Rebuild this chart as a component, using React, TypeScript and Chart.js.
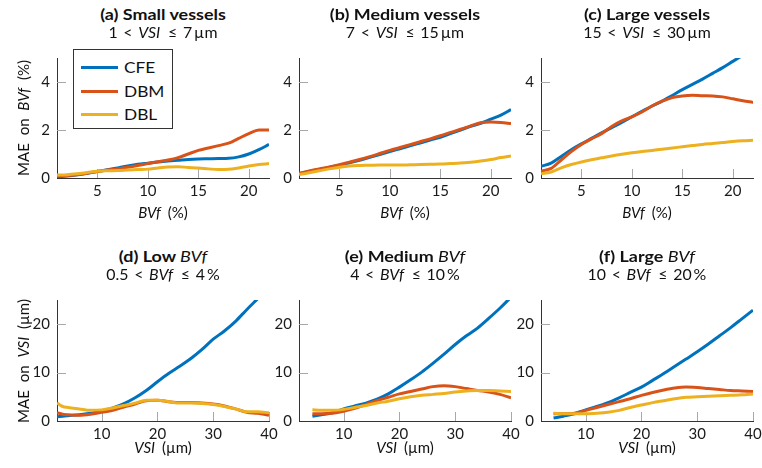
import React, { useEffect, useRef } from 'react';
import { Chart, registerables } from 'chart.js';
Chart.register(...registerables);

// ---------- data ----------
const BVF_X = [1, 2, 3, 4, 5, 6, 7, 8, 9, 10, 11, 12, 13, 14, 15, 16, 17, 18, 19, 20, 21, 22];
const BVF_TICKS = [5, 10, 15, 20];
const MAE_BVF_TICKS = [0, 2, 4];

const A_CFE = [0.05, 0.08, 0.13, 0.2, 0.27, 0.34, 0.42, 0.5, 0.57, 0.62, 0.67, 0.71, 0.74, 0.77, 0.79, 0.8, 0.81, 0.82, 0.88, 1.0, 1.18, 1.4];
const A_DBM = [0.08, 0.1, 0.14, 0.2, 0.27, 0.33, 0.38, 0.45, 0.52, 0.6, 0.68, 0.75, 0.85, 1.0, 1.15, 1.25, 1.35, 1.45, 1.65, 1.85, 2.0, 2.0];
const A_DBL = [0.12, 0.14, 0.18, 0.23, 0.28, 0.3, 0.31, 0.33, 0.35, 0.37, 0.42, 0.46, 0.47, 0.44, 0.42, 0.38, 0.35, 0.36, 0.42, 0.5, 0.56, 0.6];

const B_CFE = [0.18, 0.27, 0.36, 0.44, 0.53, 0.63, 0.74, 0.86, 0.98, 1.1, 1.22, 1.34, 1.46, 1.58, 1.7, 1.85, 2.0, 2.15, 2.28, 2.45, 2.62, 2.85];
const B_DBM = [0.2, 0.29, 0.38, 0.46, 0.55, 0.66, 0.77, 0.89, 1.02, 1.15, 1.27, 1.39, 1.51, 1.63, 1.76, 1.9, 2.03, 2.17, 2.3, 2.33, 2.31, 2.27];
const B_DBL = [0.14, 0.22, 0.3, 0.38, 0.45, 0.5, 0.52, 0.53, 0.54, 0.54, 0.54, 0.55, 0.56, 0.57, 0.58, 0.6, 0.62, 0.66, 0.71, 0.77, 0.85, 0.92];

const C_CFE = [0.49, 0.62, 0.9, 1.18, 1.42, 1.65, 1.88, 2.1, 2.32, 2.55, 2.78, 3.0, 3.2, 3.44, 3.68, 3.9, 4.12, 4.36, 4.6, 4.86, 5.12, 5.38];
const C_DBM = [0.28, 0.4, 0.75, 1.1, 1.4, 1.63, 1.85, 2.15, 2.38, 2.55, 2.75, 3.0, 3.2, 3.35, 3.42, 3.45, 3.43, 3.42, 3.38, 3.3, 3.22, 3.15];
const C_DBL = [0.18, 0.25, 0.42, 0.56, 0.67, 0.76, 0.84, 0.92, 0.99, 1.05, 1.1, 1.15, 1.2, 1.25, 1.3, 1.35, 1.4, 1.44, 1.48, 1.52, 1.55, 1.57];

const VSI_TICKS = [10, 20, 30, 40];
const MAE_VSI_TICKS = [0, 10, 20];

const D_X = [2, 3, 4, 6, 8, 10, 12, 14, 16, 18, 20, 22, 24, 26, 28, 30, 32, 34, 36, 38, 40];
const D_CFE = [0.9, 1.0, 1.1, 1.3, 1.6, 2.0, 2.7, 3.6, 4.8, 6.3, 8.1, 9.8, 11.3, 12.9, 14.8, 16.9, 18.6, 20.6, 23.0, 25.3, 27.6];
const D_DBM = [1.7, 1.4, 1.3, 1.2, 1.4, 1.8, 2.2, 2.9, 3.5, 4.2, 4.3, 4.0, 3.8, 3.8, 3.7, 3.5, 3.1, 2.5, 1.8, 1.6, 1.2];
const D_DBL = [3.7, 3.0, 2.8, 2.5, 2.2, 2.3, 2.7, 3.2, 3.7, 4.3, 4.3, 4.0, 3.7, 3.7, 3.6, 3.4, 3.0, 2.5, 1.9, 1.9, 1.7];

const E_X = [4.4, 6, 8, 10, 12, 14, 16, 18, 20, 22, 24, 26, 28, 30, 32, 34, 36, 38, 40];
const E_CFE = [1.0, 1.3, 1.7, 2.5, 3.1, 3.7, 4.5, 5.6, 7.0, 8.5, 10.1, 11.9, 13.8, 15.8, 17.6, 19.2, 21.2, 23.3, 25.6];
const E_DBM = [1.5, 1.5, 1.6, 2.0, 2.6, 3.4, 4.2, 4.9, 5.6, 6.1, 6.6, 7.1, 7.3, 7.1, 6.7, 6.3, 6.0, 5.5, 4.8];
const E_DBL = [2.3, 2.2, 2.2, 2.4, 2.8, 3.2, 3.7, 4.1, 4.6, 5.0, 5.3, 5.5, 5.7, 6.0, 6.2, 6.3, 6.3, 6.2, 6.1];

const F_X = [4.25, 6, 8, 10, 12, 14, 16, 18, 20, 22, 24, 26, 28, 30, 32, 34, 36, 38, 40];
const F_CFE = [0.6, 1.0, 1.5, 2.3, 3.0, 3.8, 4.8, 5.9, 7.0, 8.4, 9.8, 11.3, 12.8, 14.3, 15.9, 17.6, 19.3, 21.1, 22.9];
const F_DBM = [1.5, 1.5, 1.6, 2.2, 2.8, 3.4, 4.0, 4.6, 5.3, 5.9, 6.4, 6.8, 7.0, 6.9, 6.7, 6.5, 6.3, 6.2, 6.1];
const F_DBL = [1.6, 1.5, 1.5, 1.5, 1.6, 1.8, 2.2, 2.8, 3.3, 3.8, 4.2, 4.6, 4.9, 5.0, 5.1, 5.2, 5.3, 5.4, 5.6];

const SERIES = ['CFE', 'DBM', 'DBL'];

// ---------- styles ----------
const COLORS = ['#0072BD', '#D95319', '#EDB120'];
const FONT = 'Lato, "Open Sans", sans-serif';
const COL_LEFT = [57, 299, 541];
const PLOT_W = 212;
const ROW_TOP = [58, 300];
const PLOT_H = [120, 121];
const XTITLE_Y = [212, 447];
const PAD_L = 45, PAD_T = 22, PAD_R = 14, PAD_B = 30;

const PANELS = [
  { row: 0, col: 0, title: '(a) Small vessels', sub: '1 < *VSI*\u2009 ≤ 7\u2009µm', x: BVF_X, ys: [A_CFE, A_DBM, A_DBL], xr: [1, 22], yr: [0, 5], xt: BVF_TICKS, yt: MAE_BVF_TICKS },
  { row: 0, col: 1, title: '(b) Medium vessels', sub: '7 < *VSI*\u2009 ≤ 15\u2009µm', x: BVF_X, ys: [B_CFE, B_DBM, B_DBL], xr: [1, 22], yr: [0, 5], xt: BVF_TICKS, yt: MAE_BVF_TICKS },
  { row: 0, col: 2, title: '(c) Large vessels', sub: '15 < *VSI*\u2009 ≤ 30\u2009µm', x: BVF_X, ys: [C_CFE, C_DBM, C_DBL], xr: [1, 22], yr: [0, 5], xt: BVF_TICKS, yt: MAE_BVF_TICKS },
  { row: 1, col: 0, title: '(d) Low *BVf*', sub: '0.5 < *BVf*\u2009 ≤ 4\u2009%', x: D_X, ys: [D_CFE, D_DBM, D_DBL], xr: [2, 40], yr: [0, 25], xt: VSI_TICKS, yt: MAE_VSI_TICKS },
  { row: 1, col: 1, title: '(e) Medium *BVf*', sub: '4 < *BVf*\u2009 ≤ 10\u2009%', x: E_X, ys: [E_CFE, E_DBM, E_DBL], xr: [2, 40], yr: [0, 25], xt: VSI_TICKS, yt: MAE_VSI_TICKS },
  { row: 1, col: 2, title: '(f) Large *BVf*', sub: '10 < *BVf*\u2009 ≤ 20\u2009%', x: F_X, ys: [F_CFE, F_DBM, F_DBL], xr: [2, 40], yr: [0, 25], xt: VSI_TICKS, yt: MAE_VSI_TICKS },
];

const X_TITLES = ['*BVf* (%)', '*VSI* (µm)'];
const Y_TITLES = ['MAE on *BVf* (%)', 'MAE on *VSI* (µm)'];

function Rich({ text, italicWeight }: { text: string; italicWeight?: number }) {
  return (
    <>
      {text.split('*').map((s, i) =>
        i % 2 ? <i key={i} style={italicWeight ? { fontWeight: italicWeight } : undefined}>{s}</i> : <span key={i}>{s}</span>
      )}
    </>
  );
}

const tickMarks = {
  id: 'tickMarks',
  beforeDatasetsDraw(chart: any) {
    const { ctx, chartArea: a, scales } = chart;
    ctx.save();
    ctx.strokeStyle = '#a8a8a8';
    ctx.lineWidth = 1;
    scales.x.ticks.forEach((t: any) => {
      const px = Math.round(scales.x.getPixelForValue(t.value)) + 0.5;
      ctx.beginPath();
      ctx.moveTo(px, a.bottom);
      ctx.lineTo(px, a.bottom - 9);
      ctx.stroke();
    });
    scales.y.ticks.forEach((t: any) => {
      if (t.value === 0) return;
      const py = Math.round(scales.y.getPixelForValue(t.value)) + 0.5;
      ctx.beginPath();
      ctx.moveTo(a.left, py);
      ctx.lineTo(a.left + 9, py);
      ctx.stroke();
    });
    ctx.restore();
  },
};

export default function App() {
  const refs = useRef<(HTMLCanvasElement | null)[]>([]);

  useEffect(() => {
    const charts = PANELS.map((p, i) => {
      const canvas = refs.current[i]!;
      return new Chart(canvas, {
        type: 'line',
        data: {
          datasets: SERIES.map((name, k) => ({
            label: name,
            data: p.x.map((xv, j) => ({ x: xv, y: p.ys[k][j] })),
            borderColor: COLORS[k],
            backgroundColor: COLORS[k],
            order: 2 - k,
          })),
        },
        options: {
          animation: false,
          responsive: false,
          layout: { padding: { left: 0, top: PAD_T, right: PAD_R, bottom: 0 } },
          elements: {
            point: { radius: 0 },
            line: { borderWidth: 3, cubicInterpolationMode: 'monotone', borderCapStyle: 'butt' },
          },
          plugins: { legend: { display: false }, tooltip: { enabled: false } },
          scales: {
            x: {
              type: 'linear',
              min: p.xr[0],
              max: p.xr[1],
              grid: { display: false, drawTicks: false },
              border: { display: true, color: '#333', width: 1 },
              ticks: { font: { family: FONT, size: 15 }, color: '#1a1a1a', padding: 4, maxRotation: 0 },
              afterBuildTicks: (s: any) => { s.ticks = p.xt.map((v) => ({ value: v })); },
              afterFit: (s: any) => { s.height = PAD_B; },
            },
            y: {
              type: 'linear',
              min: p.yr[0],
              max: p.yr[1],
              grid: { display: false, drawTicks: false },
              border: { display: true, color: '#333', width: 1 },
              ticks: { font: { family: FONT, size: 15 }, color: '#1a1a1a', padding: 7 },
              afterBuildTicks: (s: any) => { s.ticks = p.yt.map((v) => ({ value: v })); },
              afterFit: (s: any) => { s.width = PAD_L; },
            },
          },
        } as any,
        plugins: [tickMarks],
      });
    });
    return () => charts.forEach((c) => c.destroy());
  }, []);

  return (
    <div style={{ position: 'fixed', left: 0, top: 0, width: 762, height: 468, background: '#fff', fontFamily: FONT, color: '#111', overflow: 'hidden' }}>
      {PANELS.map((p, i) => {
        const left = COL_LEFT[p.col];
        const top = ROW_TOP[p.row];
        const h = PLOT_H[p.row];
        const cx = left + PLOT_W / 2;
        return (
          <React.Fragment key={i}>
            <canvas
              ref={(el) => { refs.current[i] = el; }}
              width={PLOT_W + PAD_L + PAD_R}
              height={h + PAD_T + PAD_B}
              style={{ position: 'absolute', left: left - PAD_L, top: top - PAD_T, width: PLOT_W + PAD_L + PAD_R, height: h + PAD_T + PAD_B }}
            />
            <div style={{ position: 'absolute', left: cx - 150, width: 300, top: top - 44 - 10, textAlign: 'center', fontSize: 16, fontWeight: 700, lineHeight: '20px', transform: 'scaleX(1.12)' }}>
              <Rich text={p.title} italicWeight={400} />
            </div>
            <div style={{ position: 'absolute', left: cx - 150, width: 300, top: top - 26 - 10, textAlign: 'center', fontSize: 15, lineHeight: '20px', wordSpacing: 1.5, transform: 'scaleX(1.06)' }}>
              <Rich text={p.sub} />
            </div>
            <div style={{ position: 'absolute', left: cx - 100, width: 200, top: XTITLE_Y[p.row] - 10, textAlign: 'center', fontSize: 15, lineHeight: '20px', wordSpacing: 3 }}>
              <Rich text={X_TITLES[p.row]} />
            </div>
            {p.col === 0 && (
              <div style={{ position: 'absolute', left: 23 - 100, width: 200, top: top + h / 2 - 10, textAlign: 'center', fontSize: 15, lineHeight: '20px', wordSpacing: 4, transform: 'rotate(-90deg)' }}>
                <Rich text={Y_TITLES[p.row]} />
              </div>
            )}
          </React.Fragment>
        );
      })}
      <div style={{ position: 'absolute', left: 73, top: 49, width: 98, height: 78, border: '1px solid #333', background: '#fff' }}>
        {SERIES.map((name, k) => (
          <div key={name} style={{ position: 'absolute', left: 0, top: 7 + k * 23.7, height: 20, width: 98 }}>
            <div style={{ position: 'absolute', left: 7, top: 9, width: 37, height: 3, background: COLORS[k] }} />
            <div style={{ position: 'absolute', left: 50, top: 0, fontSize: 16, lineHeight: '20px', color: '#111', transformOrigin: 'left center', transform: 'scaleX(1.08)' }}>{name}</div>
          </div>
        ))}
      </div>
    </div>
  );
}
